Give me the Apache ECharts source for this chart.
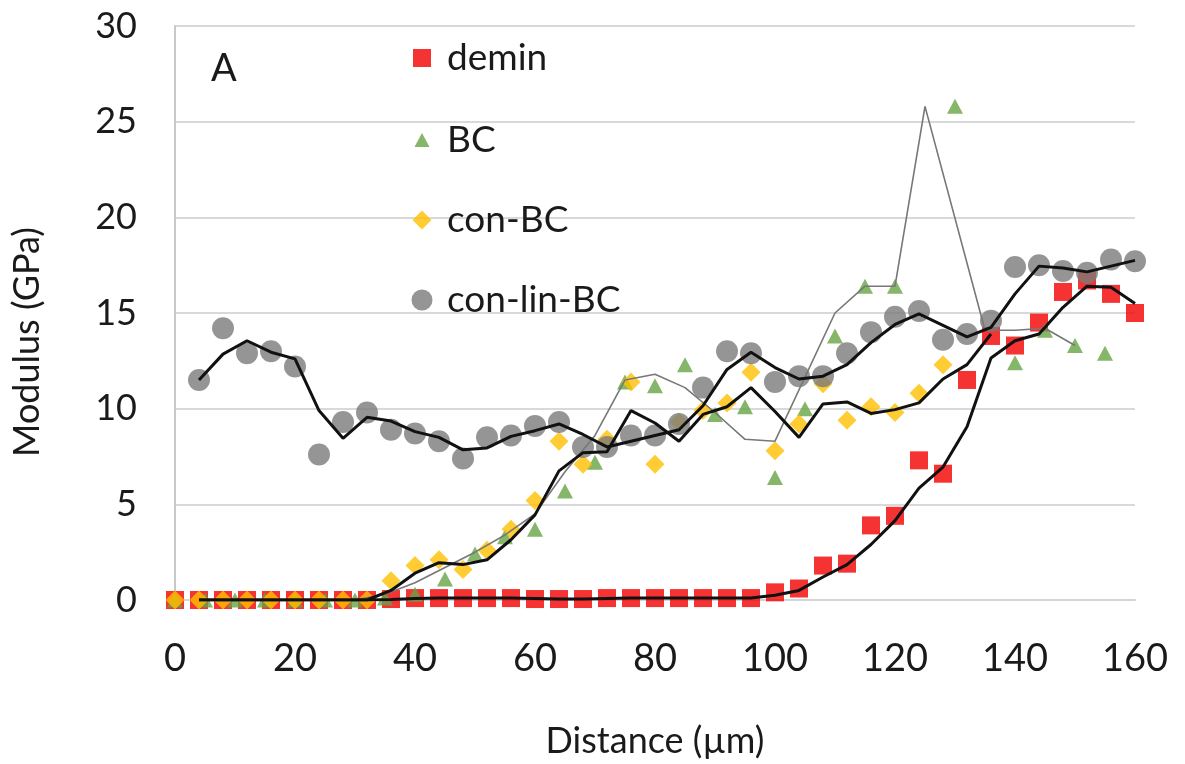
<!DOCTYPE html>
<html>
<head>
<meta charset="utf-8">
<script src="https://cdn.jsdelivr.net/npm/echarts@6/dist/echarts.min.js"></script>
<style>
  html, body { margin: 0; padding: 0; background: #fff; }
  #chart { width: 1185px; height: 764px; }
</style>
</head>
<body>
<div id="chart"></div>
<script>
// ---- Data ----
// distances (µm) for demin / con-BC / con-lin-BC (4 µm step)
const dist4 = [0,4,8,12,16,20,24,28,32,36,40,44,48,52,56,60,64,68,72,76,80,84,88,92,96,100,104,108,112,116,120,124,128,132,136,140,144,148,152,156,160];

const demin = [0,0,0,0,0,0,0,0,0,0.05,0.1,0.1,0.1,0.1,0.1,0.05,0.05,0.05,0.1,0.1,0.1,0.1,0.1,0.1,0.1,0.4,0.6,1.8,1.9,3.9,4.4,7.3,6.6,11.5,13.8,13.3,14.5,16.1,16.7,16.0,15.0];

// con-BC: x = dist4[0..32]
const conBC = [0,0,0,0,0,0,0,0,0,1.0,1.8,2.1,1.6,2.6,3.7,5.2,8.3,7.1,8.4,11.4,7.1,9.3,9.9,10.3,11.9,7.8,9.2,11.3,9.4,10.1,9.8,10.8,12.3];

// con-lin-BC: x = dist4[1..40]
const conLinBC = [11.5,14.2,12.9,13.0,12.2,7.6,9.3,9.8,8.9,8.7,8.3,7.4,8.5,8.6,9.1,9.3,8.0,8.0,8.6,8.6,9.2,11.1,13.0,12.9,11.4,11.7,11.7,12.9,14.0,14.8,15.1,13.6,13.9,14.6,17.4,17.5,17.2,17.1,17.8,17.7];

// BC (5 µm step)
const distBC = [0,5,10,15,20,25,30,35,40,45,50,55,60,65,70,75,80,85,90,95,100,105,110,115,120,130,140,145,150,155];
const BC = [0,0,0,0,0,0,0,0.1,0.3,1.1,2.4,3.3,3.7,5.7,7.2,11.4,11.2,12.3,9.7,10.1,6.4,10.0,13.8,16.4,16.4,25.8,12.4,14.1,13.3,12.9];

// trend lines (black); x = dist4[1..]
const deminTrend = [0,0,0,0,0,0,0,0,0.03,0.08,0.1,0.1,0.1,0.1,0.08,0.05,0.05,0.08,0.1,0.1,0.1,0.1,0.1,0.1,0.25,0.5,1.2,1.85,2.9,4.15,5.85,6.95,9.05,12.65,13.55,13.9,15.3,16.4,16.35,15.5];
const conBCTrend = [0,0,0,0,0,0,0,0,0.5,1.4,1.95,1.85,2.1,3.15,4.45,6.75,7.7,7.75,9.9,9.25,8.3,9.7,10.1,11.1,9.85,8.5,10.25,10.35,9.75,9.95,10.3,11.55,12.3,13.9];
const conLinTrend = [11.5,12.85,13.55,12.95,12.6,9.9,8.45,9.55,9.35,8.8,8.5,7.85,7.95,8.55,8.85,9.2,8.65,8.0,8.3,8.6,8.9,10.15,12.05,12.95,12.15,11.55,11.7,12.3,13.45,14.4,14.95,14.35,13.75,14.25,16.0,17.45,17.35,17.15,17.45,17.75];

// thin grey BC line
const bcLineX = [30,35,40,45,50,55,60,65,70,75,80,85,90,95,100,110,115,120,125,135,140,145,150];
const bcLineY = [0,0.3,0.9,1.7,2.5,3.4,4.5,6.7,8.6,11.5,11.8,11.1,9.8,8.4,8.3,15.0,16.4,16.4,25.8,14.1,14.1,14.2,13.3];

const xTicks = [0,20,40,60,80,100,120,140,160];
const yTicks = [0,5,10,15,20,25,30];

// ---- build ----
const pairs = (xs, ys, off) => ys.map((v, i) => [xs[i + (off || 0)], v]);

const FONT = 'Lato, "Open Sans", sans-serif';
const TXT = '#1a1a1a';

const chart = echarts.init(document.getElementById('chart'), null, { renderer: 'canvas' });

// one legend block per entry so each marker keeps its own size
function legendItem(name, w, h, top) {
  const left = 417 - w / 2;
  const textStart = left + w + 5;
  return {
    data: [name], orient: 'vertical', left: left, top: top,
    itemWidth: w, itemHeight: h, selectedMode: false,
    textStyle: { fontFamily: FONT, fontSize: 37, color: TXT, lineHeight: 40,
                 padding: [0, 0, 0, Math.max(0, 442 - textStart)] }
  };
}

chart.setOption({
  backgroundColor: '#fff',
  animation: false,
  grid: { left: 175, right: 50, top: 26, bottom: 161, containLabel: false },
  xAxis: {
    type: 'value', min: xTicks[0], max: xTicks[xTicks.length - 1], interval: 20,
    name: 'Distance (µm)', nameLocation: 'middle', nameGap: 123,
    nameTextStyle: { fontFamily: FONT, fontSize: 36, color: TXT },
    axisLine: { show: true, lineStyle: { color: '#d4d4d4', width: 2 } },
    axisTick: { show: false },
    splitLine: { show: false },
    axisLabel: { fontFamily: FONT, fontSize: 38, color: TXT, margin: 40 }
  },
  yAxis: {
    type: 'value', min: yTicks[0], max: yTicks[yTicks.length - 1], interval: 5,
    name: 'Modulus (GPa)', nameLocation: 'middle', nameGap: 130,
    nameTextStyle: { fontFamily: FONT, fontSize: 36, color: TXT, padding: [0, 58, 0, 0] },
    axisLine: { show: true, lineStyle: { color: '#c8c8c8', width: 2 } },
    axisTick: { show: false },
    splitLine: { show: true, lineStyle: { color: '#d9d9d9', width: 2 } },
    axisLabel: { fontFamily: FONT, fontSize: 36, color: TXT, margin: 38 }
  },
  legend: [
    legendItem('demin', 18, 18, 33),
    legendItem('BC', 15, 14, 115),
    legendItem('con-BC', 19, 19, 195),
    legendItem('con-lin-BC', 21, 21, 275)
  ],
  graphic: [{
    type: 'text', left: 211, top: 50,
    style: { text: 'A', fontFamily: FONT, fontSize: 38, fill: TXT }
  }],
  series: [
    { name: 'demin', type: 'scatter', symbol: 'rect', symbolSize: 18, z: 2,
      itemStyle: { color: '#f20000' }, data: pairs(dist4, demin) },
    { name: 'BC', type: 'scatter', symbol: 'triangle', symbolSize: [16, 15], z: 3,
      itemStyle: { color: '#66a443' }, data: pairs(distBC, BC) },
    { name: 'con-BC', type: 'scatter', symbol: 'diamond', symbolSize: 19, z: 4,
      itemStyle: { color: '#ffc000' }, data: pairs(dist4, conBC) },
    { name: 'con-lin-BC', type: 'scatter', symbol: 'circle', symbolSize: 22, z: 5,
      itemStyle: { color: '#7b7b7b' }, data: pairs(dist4, conLinBC, 1) },
    { name: 'BC trend', type: 'line', symbol: 'none', z: 6, silent: true,
      lineStyle: { color: '#777777', width: 1.6 }, data: pairs(bcLineX, bcLineY) },
    { name: 'demin trend', type: 'line', symbol: 'none', z: 7, silent: true,
      lineStyle: { color: '#111111', width: 3 }, data: pairs(dist4, deminTrend, 1) },
    { name: 'con-BC trend', type: 'line', symbol: 'none', z: 7, silent: true,
      lineStyle: { color: '#111111', width: 3 }, data: pairs(dist4, conBCTrend, 1) },
    { name: 'con-lin-BC trend', type: 'line', symbol: 'none', z: 7, silent: true,
      lineStyle: { color: '#111111', width: 3 }, data: pairs(dist4, conLinTrend, 1) }
  ]
});
</script>
</body>
</html>
